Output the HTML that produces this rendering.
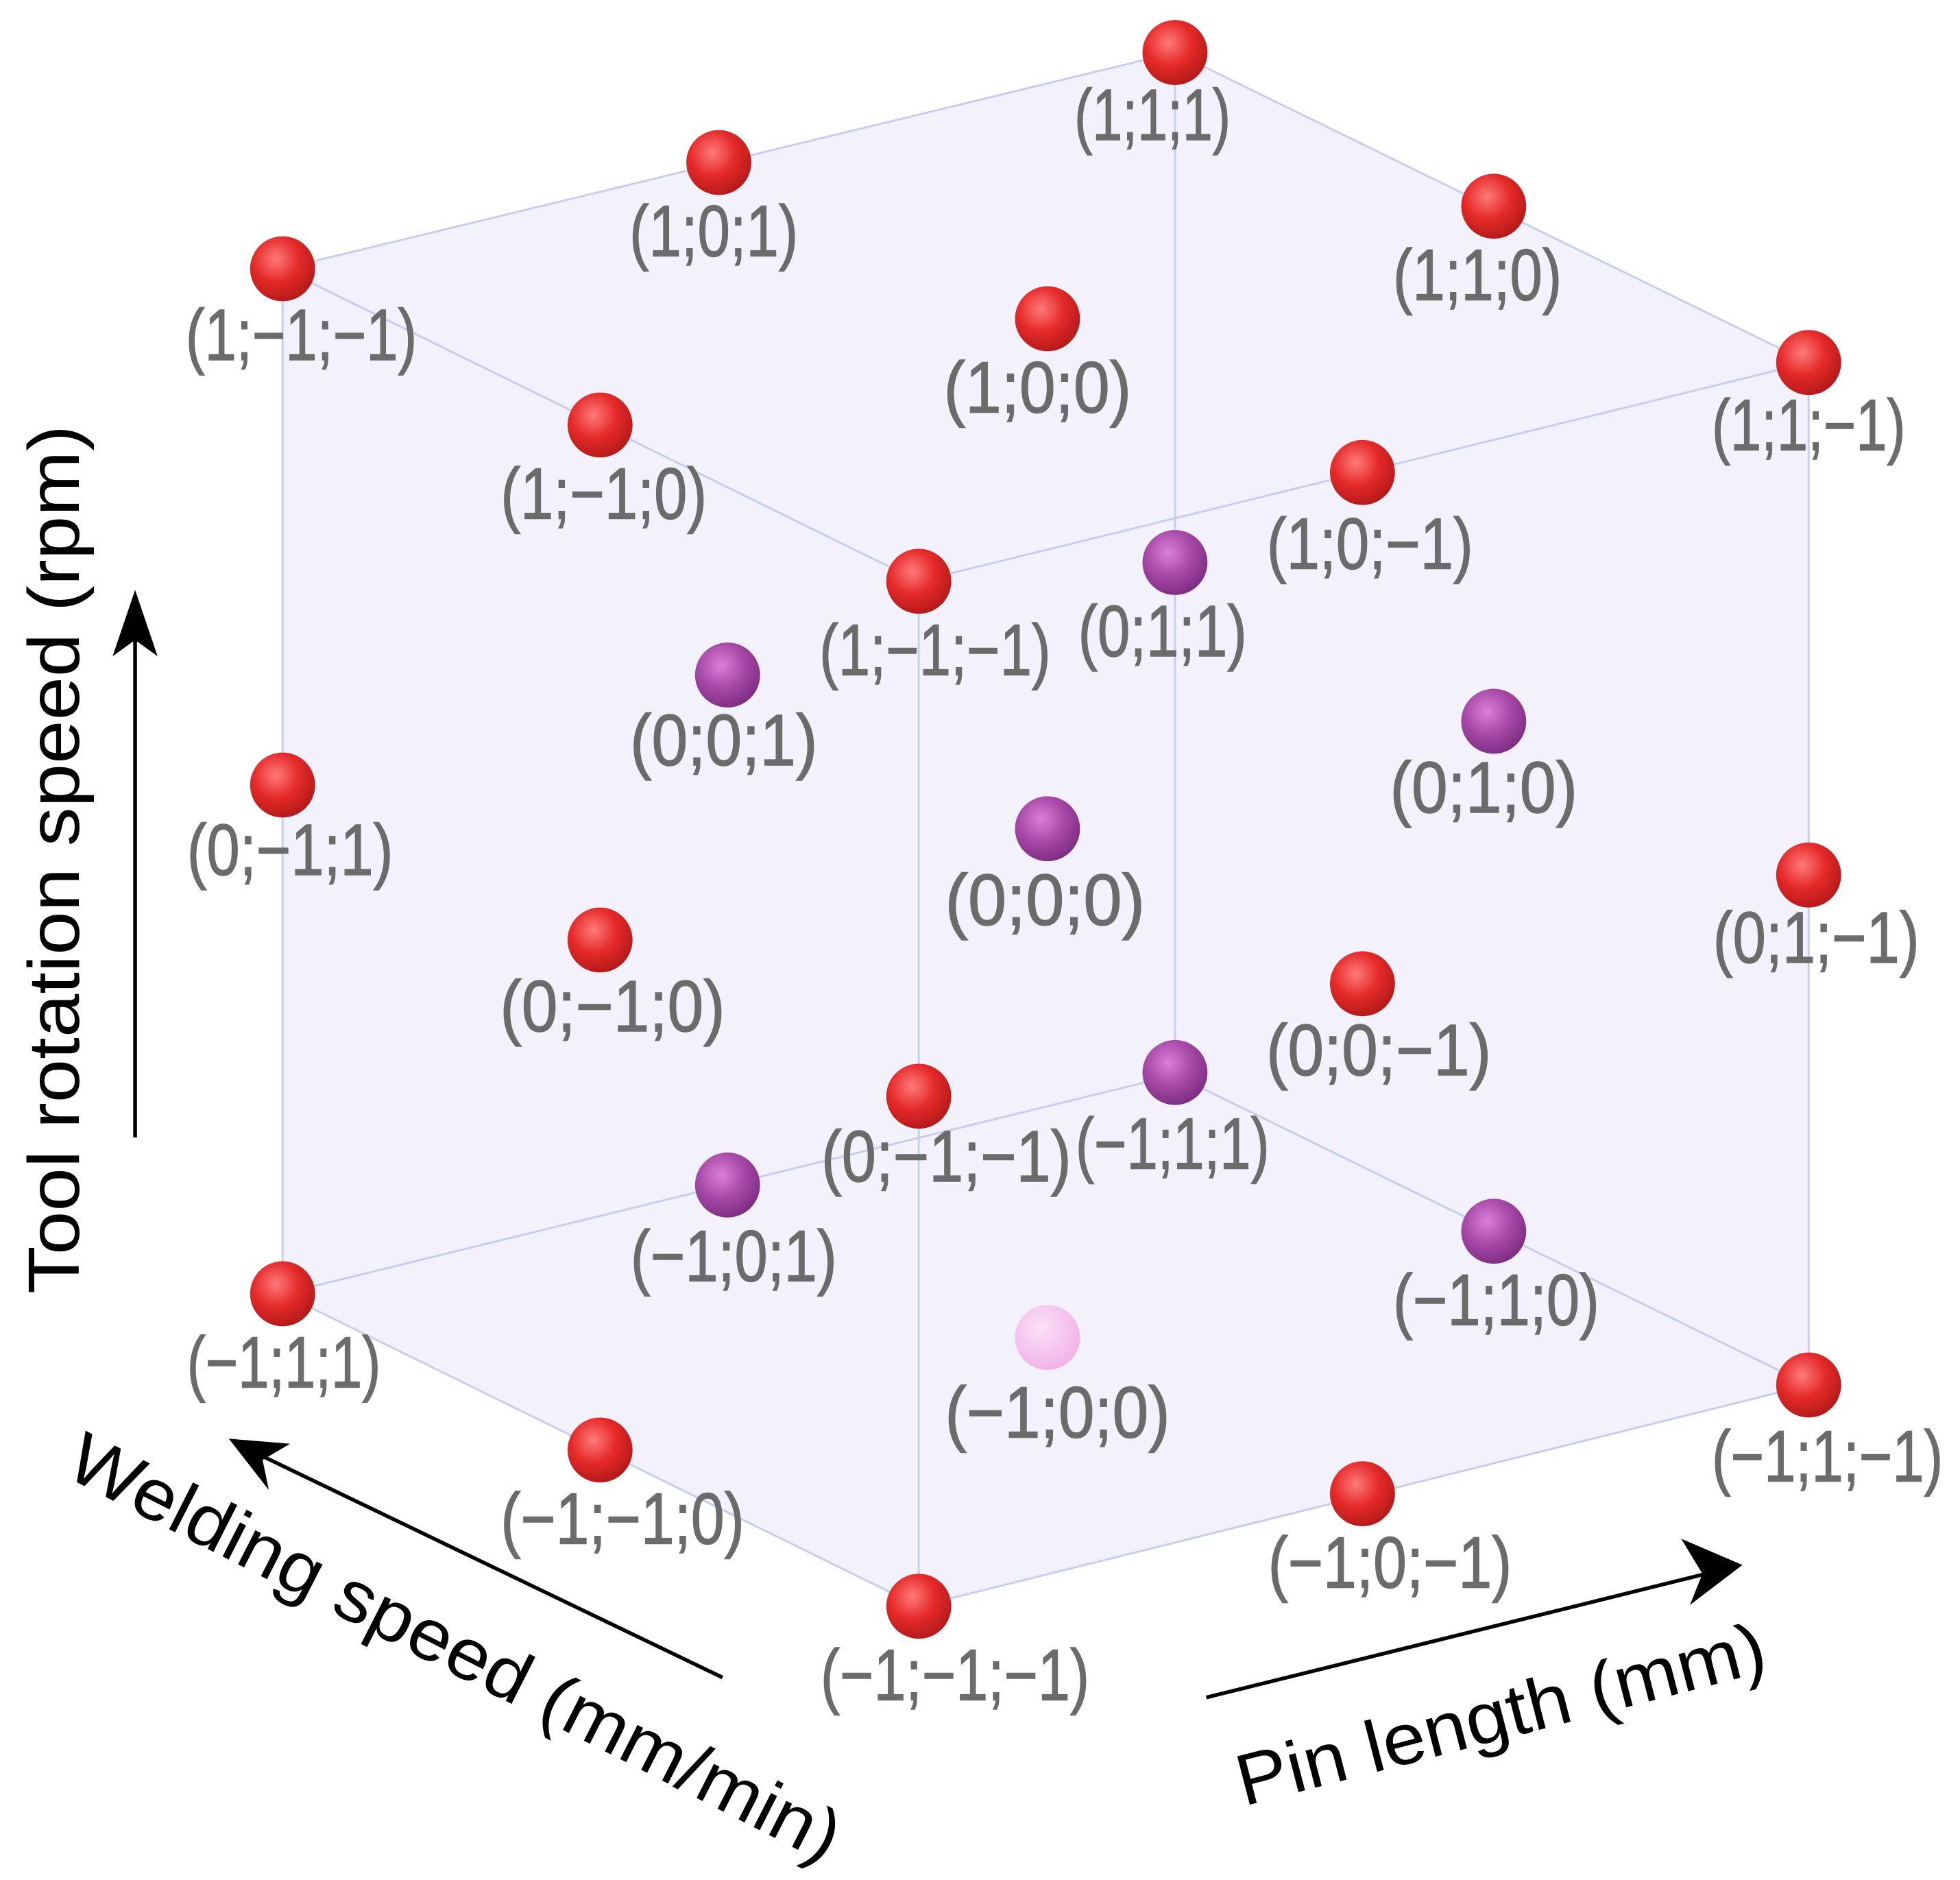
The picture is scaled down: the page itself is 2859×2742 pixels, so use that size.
<!DOCTYPE html>
<html><head><meta charset="utf-8"><style>html,body{margin:0;padding:0;background:#fff}svg{display:block}</style></head>
<body>
<svg xmlns="http://www.w3.org/2000/svg" width="2859" height="2742" viewBox="0 0 1568 1504">
<defs>
<radialGradient id="r" cx="0.4" cy="0.35" r="0.7"><stop offset="0" stop-color="#ff7a7a"/><stop offset="0.5" stop-color="#e52a2a"/><stop offset="1" stop-color="#b01818"/></radialGradient>
<radialGradient id="p" cx="0.4" cy="0.35" r="0.7"><stop offset="0" stop-color="#d880d8"/><stop offset="0.5" stop-color="#a84aa8"/><stop offset="1" stop-color="#7a2a80"/></radialGradient>
<radialGradient id="k" cx="0.4" cy="0.35" r="0.7"><stop offset="0" stop-color="#fbe0f6"/><stop offset="1" stop-color="#f0b0e8"/></radialGradient>
</defs>
<g fill="#f3f2fc" stroke="none">
<polygon points="940,42 226,215 735,465 1447,290"/>
<polygon points="226,215 735,465 735,1285 226,1035"/>
<polygon points="735,465 1447,290 1447,1108 735,1285"/>
</g>
<g stroke="#c6cdf0" stroke-width="1.6" fill="none">
<polygon points="940,42 226,215 735,465 1447,290"/>
<line x1="226" y1="215" x2="226" y2="1035"/><line x1="735" y1="465" x2="735" y2="1285"/><line x1="1447" y1="290" x2="1447" y2="1108"/><line x1="940" y1="42" x2="940" y2="860"/>
<polyline points="226,1035 735,1285 1447,1108"/>
<polyline points="226,1035 940,860 1447,1108"/>
</g>
<g>
<circle cx="940" cy="42" r="26" fill="url(#r)"/><circle cx="575" cy="130" r="26" fill="url(#r)"/><circle cx="1195" cy="165" r="26" fill="url(#r)"/><circle cx="226" cy="215" r="26" fill="url(#r)"/><circle cx="838" cy="255" r="26" fill="url(#r)"/><circle cx="1447" cy="290" r="26" fill="url(#r)"/><circle cx="480" cy="340" r="26" fill="url(#r)"/><circle cx="1090" cy="378" r="26" fill="url(#r)"/><circle cx="735" cy="465" r="26" fill="url(#r)"/>
<circle cx="940" cy="450" r="26" fill="url(#p)"/><circle cx="582" cy="540" r="26" fill="url(#p)"/><circle cx="1195" cy="577" r="26" fill="url(#p)"/><circle cx="226" cy="628" r="26" fill="url(#r)"/><circle cx="838" cy="663" r="26" fill="url(#p)"/><circle cx="1447" cy="700" r="26" fill="url(#r)"/><circle cx="480" cy="752" r="26" fill="url(#r)"/><circle cx="1090" cy="787" r="26" fill="url(#r)"/><circle cx="735" cy="877" r="26" fill="url(#r)"/>
<circle cx="940" cy="858" r="26" fill="url(#p)"/><circle cx="582" cy="948" r="26" fill="url(#p)"/><circle cx="1195" cy="985" r="26" fill="url(#p)"/><circle cx="226" cy="1035" r="26" fill="url(#r)"/><circle cx="838" cy="1070" r="26" fill="url(#k)"/><circle cx="1447" cy="1108" r="26" fill="url(#r)"/><circle cx="480" cy="1160" r="26" fill="url(#r)"/><circle cx="1090" cy="1195" r="26" fill="url(#r)"/><circle cx="735" cy="1285" r="26" fill="url(#r)"/>
</g>
<g font-family="Liberation Sans, sans-serif" font-size="58" fill="#6b6b6b" stroke="#6b6b6b" stroke-width="0.8" text-anchor="middle">
<text x="922" y="112" textLength="125" lengthAdjust="spacingAndGlyphs">(1;1;1)</text>
<text x="571" y="205" textLength="135" lengthAdjust="spacingAndGlyphs">(1;0;1)</text>
<text x="1182" y="240" textLength="135" lengthAdjust="spacingAndGlyphs">(1;1;0)</text>
<text x="241" y="288" textLength="185" lengthAdjust="spacingAndGlyphs">(1;−1;−1)</text>
<text x="830" y="330" textLength="150" lengthAdjust="spacingAndGlyphs">(1;0;0)</text>
<text x="1447" y="360" textLength="155" lengthAdjust="spacingAndGlyphs">(1;1;−1)</text>
<text x="483" y="415" textLength="165" lengthAdjust="spacingAndGlyphs">(1;−1;0)</text>
<text x="1096" y="455" textLength="165" lengthAdjust="spacingAndGlyphs">(1;0;−1)</text>
<text x="748" y="540" textLength="185" lengthAdjust="spacingAndGlyphs">(1;−1;−1)</text>
<text x="930" y="525" textLength="135" lengthAdjust="spacingAndGlyphs">(0;1;1)</text>
<text x="579" y="612" textLength="150" lengthAdjust="spacingAndGlyphs">(0;0;1)</text>
<text x="1187" y="650" textLength="150" lengthAdjust="spacingAndGlyphs">(0;1;0)</text>
<text x="232" y="700" textLength="165" lengthAdjust="spacingAndGlyphs">(0;−1;1)</text>
<text x="836" y="740" textLength="160" lengthAdjust="spacingAndGlyphs">(0;0;0)</text>
<text x="1453" y="770" textLength="165" lengthAdjust="spacingAndGlyphs">(0;1;−1)</text>
<text x="490" y="825" textLength="180" lengthAdjust="spacingAndGlyphs">(0;−1;0)</text>
<text x="1103" y="860" textLength="180" lengthAdjust="spacingAndGlyphs">(0;0;−1)</text>
<text x="757" y="945" textLength="200" lengthAdjust="spacingAndGlyphs">(0;−1;−1)</text>
<text x="938" y="935" textLength="155" lengthAdjust="spacingAndGlyphs">(−1;1;1)</text>
<text x="587" y="1025" textLength="165" lengthAdjust="spacingAndGlyphs">(−1;0;1)</text>
<text x="1197" y="1060" textLength="165" lengthAdjust="spacingAndGlyphs">(−1;1;0)</text>
<text x="227" y="1110" textLength="155" lengthAdjust="spacingAndGlyphs">(−1;1;1)</text>
<text x="846" y="1150" textLength="180" lengthAdjust="spacingAndGlyphs">(−1;0;0)</text>
<text x="1462" y="1185" textLength="185" lengthAdjust="spacingAndGlyphs">(−1;1;−1)</text>
<text x="498" y="1235" textLength="195" lengthAdjust="spacingAndGlyphs">(−1;−1;0)</text>
<text x="1112" y="1270" textLength="195" lengthAdjust="spacingAndGlyphs">(−1;0;−1)</text>
<text x="764" y="1360" textLength="215" lengthAdjust="spacingAndGlyphs">(−1;−1;−1)</text>
</g>
<g stroke="#000" stroke-width="3" fill="#000">
<line x1="108" y1="910" x2="108" y2="505"/><polygon points="108,472 90,525 108,512 126,525" stroke="none"/>
<line x1="578" y1="1342" x2="210" y2="1165"/><polygon points="183,1151 215,1192 210,1168 232,1155" stroke="none"/>
<line x1="965" y1="1358" x2="1365" y2="1259"/><polygon points="1394,1252 1345,1231 1362,1259 1352,1284" stroke="none"/>
</g>
<g font-family="Liberation Sans, sans-serif" font-size="58" fill="#000">
<text transform="translate(63,1035) rotate(-90)" textLength="695" lengthAdjust="spacingAndGlyphs">Tool rotation speed (rpm)</text>
<text transform="translate(50,1180) rotate(27)" textLength="685" lengthAdjust="spacingAndGlyphs">Welding speed (mm/min)</text>
<text transform="translate(995,1445) rotate(-14.5)" textLength="435" lengthAdjust="spacingAndGlyphs">Pin length (mm)</text>
</g>
</svg>
</body></html>
